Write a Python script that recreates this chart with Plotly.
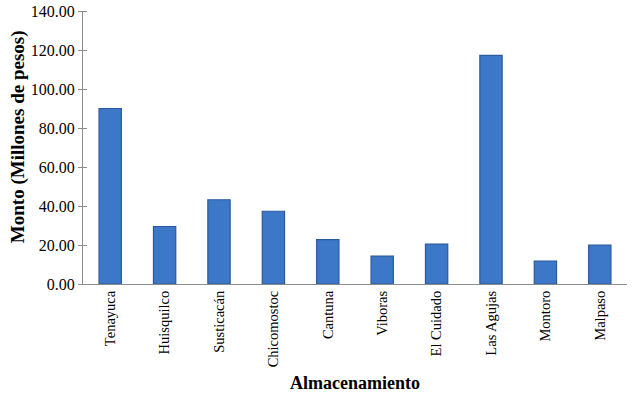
import plotly.graph_objects as go

categories = ["Tenayuca", "Huisquilco", "Susticacán", "Chicomostoc", "Cantuna",
              "Viboras", "El Cuidado", "Las Agujas", "Montoro", "Malpaso"]
values = [90.0, 29.5, 43.2, 37.3, 22.8, 14.3, 20.5, 117.2, 11.8, 20.0]
y_ticks = [0, 20, 40, 60, 80, 100, 120, 140]

SERIF = "Liberation Serif, Times New Roman, serif"

fig = go.Figure()
fig.add_trace(go.Bar(
    x=categories, y=values, width=0.41,
    marker=dict(color="#3D78C8", line=dict(color="#2A5A9A", width=1.2)),
))
fig.update_layout(
    width=635, height=403,
    margin=dict(l=83, r=8, t=11, b=119),
    paper_bgcolor="white", plot_bgcolor="white",
    font=dict(family=SERIF, size=14, color="black"),
    showlegend=False,
    xaxis=dict(
        automargin=False,
        showline=True, linecolor="#8C8C8C", linewidth=1,
        ticks="", tickangle=-90, tickfont=dict(family=SERIF, size=14.5, color="black"),
        title=dict(text="<b>Almacenamiento</b>", font=dict(family=SERIF, size=18), standoff=10),
    ),
    yaxis=dict(
        automargin=False,
        range=[0, 140], tickvals=y_ticks, tickformat=".2f",
        showline=True, linecolor="#8C8C8C", linewidth=1,
        ticks="outside", ticklen=4, tickcolor="#8C8C8C",
        minor=dict(tickvals=y_ticks, ticks="inside", ticklen=4, tickcolor="#8C8C8C", showgrid=False),
        showgrid=False, zeroline=False, tickfont=dict(family=SERIF, size=16, color="black"),
    ),
    annotations=[dict(
        text="<b>Monto (Millones de pesos)</b>", textangle=-90,
        xref="paper", yref="paper", x=0, y=0.538, xanchor="center", yanchor="middle",
        xshift=-65, showarrow=False, font=dict(family=SERIF, size=19, color="black"),
    )],
)
fig.write_html("out.html", config={"displayModeBar": False},
               post_script="document.body.style.margin='0';")
